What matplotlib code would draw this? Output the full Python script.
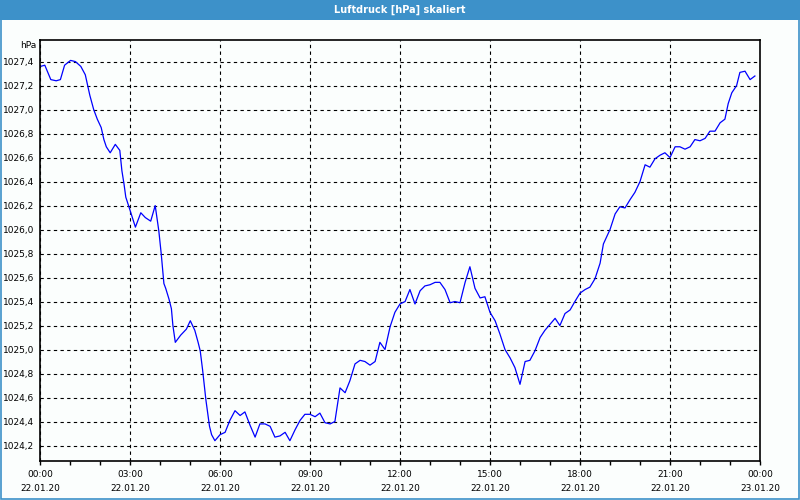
import matplotlib
matplotlib.use("Agg")
import matplotlib.pyplot as plt
from matplotlib.patches import Rectangle
from matplotlib.ticker import FixedLocator, FuncFormatter

# --- Messwerte (Stunden seit 22.01.20 00:00, Luftdruck in hPa) ---
stunden = [0.02, 0.16, 0.36, 0.54, 0.68, 0.82, 1.02, 1.18, 1.36, 1.51,
           1.66, 1.79, 1.91, 2.04, 2.13, 2.21, 2.34, 2.51, 2.66, 2.73,
           2.80, 2.86, 2.99, 3.18, 3.36, 3.51, 3.69, 3.84, 3.96, 4.04,
           4.13, 4.19, 4.30, 4.38, 4.43, 4.51, 4.69, 4.88, 5.01, 5.16,
           5.27, 5.34, 5.42, 5.53, 5.65, 5.72, 5.83, 6.00, 6.17, 6.33,
           6.50, 6.67, 6.83, 7.00, 7.17, 7.33, 7.50, 7.67, 7.83, 8.00,
           8.17, 8.33, 8.50, 8.67, 8.83, 9.00, 9.17, 9.33, 9.50, 9.67,
           9.83, 10.00, 10.17, 10.33, 10.50, 10.67, 10.83, 11.00, 11.17, 11.33,
           11.50, 11.67, 11.83, 12.00, 12.17, 12.33, 12.50, 12.67, 12.83, 13.00,
           13.17, 13.33, 13.50, 13.67, 13.83, 14.00, 14.17, 14.33, 14.50, 14.67,
           14.83, 15.00, 15.17, 15.33, 15.50, 15.67, 15.83, 16.00, 16.17, 16.33,
           16.50, 16.67, 16.83, 17.00, 17.17, 17.33, 17.50, 17.67, 17.83, 18.00,
           18.17, 18.33, 18.50, 18.67, 18.78, 18.89, 19.00, 19.17, 19.33, 19.50,
           19.67, 19.83, 20.00, 20.17, 20.33, 20.50, 20.67, 20.83, 21.00, 21.17,
           21.33, 21.50, 21.67, 21.83, 22.00, 22.17, 22.33, 22.50, 22.67, 22.83,
           22.94, 23.06, 23.22, 23.33, 23.50, 23.67, 23.83]
druck = [1027.36, 1027.37, 1027.25, 1027.24, 1027.25, 1027.37, 1027.41, 1027.40, 1027.36, 1027.29,
         1027.12, 1027.00, 1026.92, 1026.85, 1026.75, 1026.69, 1026.64, 1026.71, 1026.66, 1026.49,
         1026.38, 1026.27, 1026.17, 1026.02, 1026.14, 1026.10, 1026.07, 1026.20, 1025.99, 1025.80,
         1025.55, 1025.51, 1025.42, 1025.34, 1025.20, 1025.06, 1025.12, 1025.17, 1025.24, 1025.16,
         1025.06, 1024.99, 1024.83, 1024.58, 1024.36, 1024.29, 1024.24, 1024.29, 1024.31, 1024.41,
         1024.49, 1024.45, 1024.48, 1024.37, 1024.27, 1024.38, 1024.38, 1024.36, 1024.27, 1024.28,
         1024.31, 1024.24, 1024.33, 1024.41, 1024.46, 1024.46, 1024.44, 1024.47, 1024.39, 1024.38,
         1024.40, 1024.68, 1024.64, 1024.74, 1024.88, 1024.91, 1024.90, 1024.87, 1024.90, 1025.06,
         1025.00, 1025.19, 1025.31, 1025.38, 1025.40, 1025.50, 1025.38, 1025.49, 1025.53, 1025.54,
         1025.56, 1025.56, 1025.50, 1025.39, 1025.40, 1025.39, 1025.56, 1025.69, 1025.51, 1025.43,
         1025.44, 1025.31, 1025.24, 1025.13, 1025.00, 1024.93, 1024.85, 1024.71, 1024.90, 1024.91,
         1024.99, 1025.10, 1025.16, 1025.21, 1025.26, 1025.20, 1025.30, 1025.33, 1025.40, 1025.47,
         1025.50, 1025.52, 1025.59, 1025.72, 1025.88, 1025.94, 1026.00, 1026.13, 1026.19, 1026.18,
         1026.25, 1026.31, 1026.40, 1026.54, 1026.52, 1026.59, 1026.62, 1026.64, 1026.60, 1026.69,
         1026.69, 1026.67, 1026.69, 1026.75, 1026.74, 1026.76, 1026.82, 1026.82, 1026.89, 1026.92,
         1027.05, 1027.14, 1027.20, 1027.31, 1027.32, 1027.25, 1027.28]

x_ticks = [0, 3, 6, 9, 12, 15, 18, 21, 24]
x_labels = ["00:00\n22.01.20", "03:00\n22.01.20", "06:00\n22.01.20",
            "09:00\n22.01.20", "12:00\n22.01.20", "15:00\n22.01.20",
            "18:00\n22.01.20", "21:00\n22.01.20", "00:00\n23.01.20"]
y_ticks = [1024.2, 1024.4, 1024.6, 1024.8, 1025.0, 1025.2, 1025.4, 1025.6,
           1025.8, 1026.0, 1026.2, 1026.4, 1026.6, 1026.8, 1027.0, 1027.2, 1027.4]

bg = "#fbfefd"
blau = "#3d91c9"

fig = plt.figure(figsize=(8, 5), dpi=100, facecolor=bg)
ax = fig.add_axes([40 / 800, 1 - 460.5 / 500, 720 / 800, 420.5 / 500], facecolor=bg)

ax.plot(stunden, druck, color="#0000ff", linewidth=0.9)

ax.set_xlim(0, 24)
ax.set_ylim(1024.075, 1027.58)

ax.set_xticks(x_ticks)
ax.set_xticklabels(x_labels, fontsize=6.5, linespacing=1.75)
ax.xaxis.set_minor_locator(FixedLocator(range(25)))
ax.tick_params(axis="x", which="both", direction="out", length=3, width=1, pad=4)

ax.set_yticks(y_ticks)
ax.yaxis.set_major_formatter(FuncFormatter(lambda v, p: f"{v:.1f}".replace(".", ",")))
ax.tick_params(axis="y", length=0, labelsize=6.5, pad=4)

ax.grid(True, which="major", color="black", linestyle=(0, (3, 3)), linewidth=0.8)

for s in ax.spines.values():
    s.set_color("black")
    s.set_linewidth(1.2)

fig.text(36 / 800, 1 - 45 / 500, "hPa", ha="right", va="center", fontsize=6.5)

# Titelleiste und Rahmen
fig.patches.append(Rectangle((0, 1 - 20 / 500), 1, 20 / 500, transform=fig.transFigure,
                             facecolor=blau, edgecolor="none", zorder=0))
fig.patches.append(Rectangle((0.001, 0.002), 0.998, 0.996, transform=fig.transFigure,
                             facecolor="none", edgecolor=blau, linewidth=1.2, zorder=1))
fig.text(0.5, 1 - 10 / 500, "Luftdruck [hPa] skaliert", ha="center", va="center",
         color="white", fontsize=7, fontweight="bold")

fig.savefig("out.png", dpi=100, facecolor=bg)
